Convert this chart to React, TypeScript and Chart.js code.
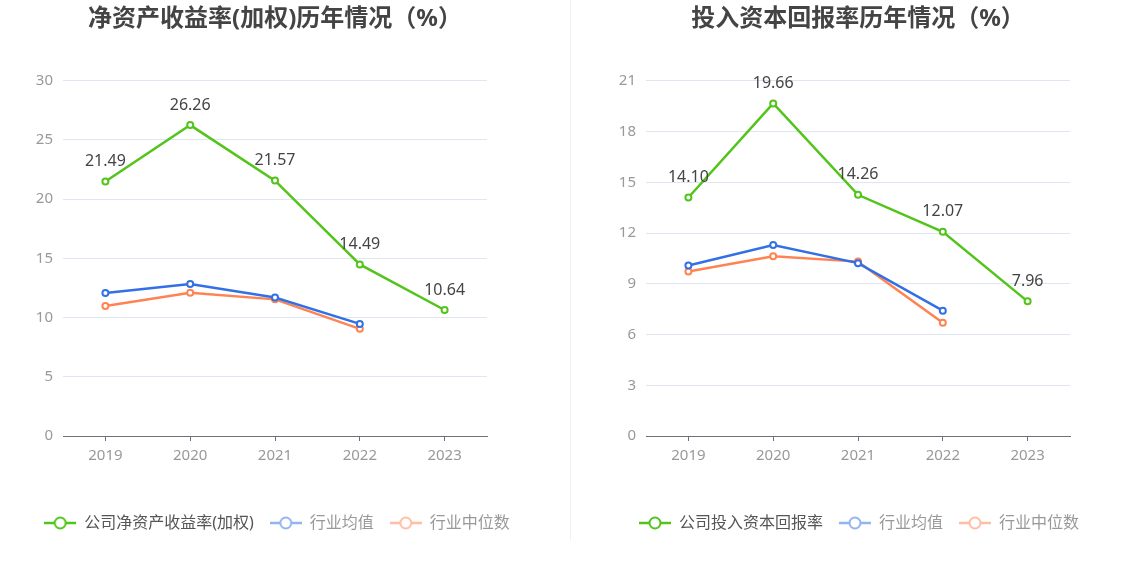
import {useEffect, useRef} from 'react';
import {Chart, registerables} from 'chart.js';

Chart.register(...registerables);

const years = ['2019', '2020', '2021', '2022', '2023'];

const roeCompany = [21.49, 26.26, 21.57, 14.49, 10.64];
const roeIndustryAvg = [12.07, 12.83, 11.7, 9.47, null];
const roeIndustryMedian = [10.98, 12.1, 11.54, 9.05, null];

const roicCompany = [14.1, 19.66, 14.26, 12.07, 7.96];
const roicIndustryAvg = [10.08, 11.29, 10.22, 7.41, null];
const roicIndustryMedian = [9.73, 10.63, 10.31, 6.69, null];

const GREEN = '#52c41a';
const BLUE = '#3370e6';
const ORANGE = '#ff8352';
const FONT = '"Noto Sans", "Noto Sans CJK SC", sans-serif';

// small canvas used as legend marker: line with a hollow circle in the middle
function legendMarker(color: string) {
	const c = document.createElement('canvas');
	c.width = 32;
	c.height = 16;
	const ctx = c.getContext('2d')!;
	ctx.strokeStyle = color;
	ctx.lineWidth = 2.5;
	ctx.beginPath();
	ctx.moveTo(0, 8);
	ctx.lineTo(32, 8);
	ctx.stroke();
	ctx.beginPath();
	ctx.arc(16, 8, 5.5, 0, Math.PI * 2);
	ctx.fillStyle = '#fff';
	ctx.fill();
	ctx.lineWidth = 2;
	ctx.stroke();
	return c;
}

const valueLabels = {
	id: 'valueLabels',
	afterDatasetsDraw(chart: any) {
		const meta = chart.getDatasetMeta(0);
		const data = chart.data.datasets[0].data;
		const ctx = chart.ctx;
		ctx.save();
		ctx.font = `16px ${FONT}`;
		ctx.fillStyle = '#444';
		ctx.textAlign = 'center';
		ctx.textBaseline = 'middle';
		meta.data.forEach((pt: any, i: number) => {
			if (data[i] == null) return;
			ctx.fillText(Number(data[i]).toFixed(2), pt.x, pt.y - 20);
		});
		ctx.restore();
	}
};

// re-centre title and legend boxes after layout
const centerBoxes = {
	id: 'centerBoxes',
	afterLayout(chart: any, _args: any, opts: any) {
		const move = (box: any, c: number) => {
			if (!box) return;
			const half = 280;
			box.left = c - half;
			box.right = c + half;
			box.width = half * 2;
		};
		move(chart.titleBlock, opts.titleCenter);
		move(chart.legend, opts.legendCenter);
		if (chart.legend) chart.legend.adjustHitBoxes();
	}
};

interface PanelProps {
	title: string;
	companyLabel: string;
	company: (number | null)[];
	avg: (number | null)[];
	median: (number | null)[];
	max: number;
	step: number;
	left: number;
	right: number;
	titleCenter: number;
	legendCenter: number;
}

function LinePanel(props: PanelProps) {
	const canvasRef = useRef<HTMLCanvasElement>(null);

	useEffect(() => {
		if (!canvasRef.current) return;
		const markers = [legendMarker(GREEN), legendMarker('#93b4f2'), legendMarker('#ffbea4')];
		const textColors = ['#555', '#999', '#999'];
		const ds = (label: string, data: any[], color: string) => ({
			label,
			data,
			borderColor: color,
			backgroundColor: '#fff',
			borderWidth: 2.5,
			pointRadius: 3,
			pointBorderWidth: 2,
			pointBackgroundColor: '#fff',
			pointBorderColor: color,
			tension: 0,
			spanGaps: false
		});
		const chart = new Chart(canvasRef.current.getContext('2d')!, {
			type: 'line',
			data: {
				labels: years,
				datasets: [
					ds(props.companyLabel, props.company, GREEN),
					ds('行业均值', props.avg, BLUE),
					ds('行业中位数', props.median, ORANGE)
				]
			},
			options: {
				animation: false,
				responsive: true,
				maintainAspectRatio: false,
				layout: {
					padding: {left: 0, right: 0, top: 0, bottom: 41}
				},
				scales: {
					x: {
						offset: true,
						grid: {drawOnChartArea: false, drawTicks: true, tickLength: 5, color: '#6e7079'},
						border: {color: '#6e7079'},
						ticks: {color: '#999', font: {size: 15, family: FONT}, padding: 6},
						afterFit: (scale: any) => {
							scale.height = 63;
						}
					},
					y: {
						min: 0,
						max: props.max,
						ticks: {stepSize: props.step, color: '#999', font: {size: 15, family: FONT}, padding: 10},
						grid: {color: '#e0e6f1', drawTicks: false},
						border: {display: false},
						afterFit: (scale: any) => {
							scale.width = props.left;
						}
					},
					// empty right-hand margin, keeps the plot narrower than the legend row
					yPad: {
						position: 'right',
						display: true,
						ticks: {display: false},
						grid: {display: false},
						border: {display: false},
						afterFit: (scale: any) => {
							scale.width = props.right;
						}
					}
				},
				plugins: {
					title: {
						display: true,
						text: props.title,
						color: '#444',
						font: {size: 24, weight: 'bold', family: FONT},
						padding: {top: 5, bottom: 47}
					},
					legend: {
						position: 'bottom',
						labels: {
							usePointStyle: true,
							pointStyleWidth: 32,
							padding: 16,
							font: {size: 16, family: FONT},
							generateLabels: (c: any) => {
								const items = Chart.defaults.plugins.legend.labels.generateLabels(c);
								return items.map((it: any, i: number) => ({
									...it,
									pointStyle: markers[i],
									fontColor: textColors[i]
								}));
							}
						},
						onClick: () => {}
					},
					tooltip: {enabled: false},
					centerBoxes: {titleCenter: props.titleCenter, legendCenter: props.legendCenter}
				} as any
			},
			plugins: [valueLabels, centerBoxes]
		});
		return () => {
			chart.destroy();
		};
	}, []);

	return (
		<div style={{width: 567, height: 582, position: 'relative'}}>
			<canvas ref={canvasRef} />
		</div>
	);
}

export default function App() {
	useEffect(() => {
		document.body.style.margin = '0';
	}, []);

	return (
		<div style={{position: 'relative', width: 1134, height: 582, display: 'flex', background: '#fff'}}>
			<LinePanel
				title="净资产收益率(加权)历年情况（%）"
				companyLabel="公司净资产收益率(加权)"
				company={roeCompany}
				avg={roeIndustryAvg}
				median={roeIndustryMedian}
				max={30}
				step={5}
				left={63}
				right={80}
				titleCenter={275}
				legendCenter={277}
			/>
			<LinePanel
				title="投入资本回报率历年情况（%）"
				companyLabel="公司投入资本回报率"
				company={roicCompany}
				avg={roicIndustryAvg}
				median={roicIndustryMedian}
				max={21}
				step={3}
				left={79}
				right={64}
				titleCenter={291}
				legendCenter={292}
			/>
			<div style={{position: 'absolute', left: 570, top: 0, width: 1, height: 540, background: '#eef0f3'}} />
		</div>
	);
}
